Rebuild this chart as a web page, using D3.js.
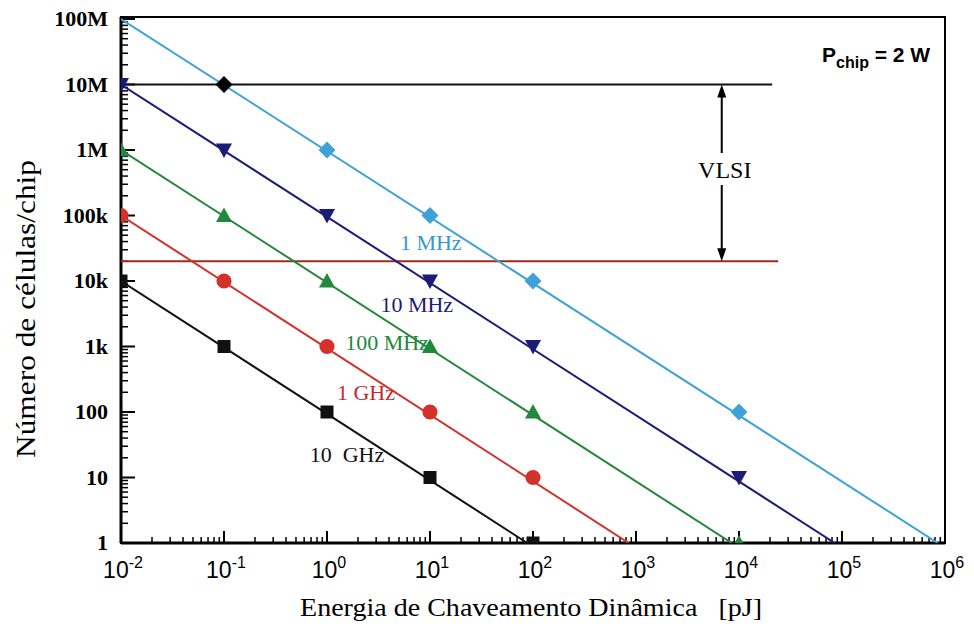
<!DOCTYPE html>
<html>
<head>
<meta charset="utf-8">
<script src="https://cdn.jsdelivr.net/npm/d3@7"></script>
<style>
  body { margin: 0; background: #fff; }
  text { font-family: "Liberation Serif", "DejaVu Serif", serif; }
</style>
</head>
<body>
<svg width="974" height="631"></svg>
<script>
// ---- data ----
var xTickValues = [1e-2, 1e-1, 1e0, 1e1, 1e2, 1e3, 1e4, 1e5, 1e6];
var xTickExp = ["-2", "-1", "0", "1", "2", "3", "4", "5", "6"];
var yTickValues = [1, 10, 100, 1e3, 1e4, 1e5, 1e6, 1e7, 1e8];
var yTickLabels = ["1", "10", "100", "1k", "10k", "100k", "1M", "10M", "100M"];

var seriesNames = ["1 MHz", "10 MHz", "100 MHz", "1 GHz", "10  GHz"];
var seriesColors = ["#3ea2d8", "#1b1b78", "#22883c", "#d3312a", "#111111"];
var labelColors = ["#3598cf", "#1b1b78", "#22883c", "#c8282e", "#111111"];
var seriesShapes = ["diamond", "triangleDown", "triangle", "circle", "square"];

// line start / end (energy pJ, cells)
var lineStartE = [0.01, 0.01, 0.01, 0.01, 0.01];
var lineStartN = [1e8, 1e7, 1e6, 1e5, 1e4];
var lineEndE = [8.5e5, 8.5e4, 8.5e3, 850, 88];
var lineEndN = [1, 1, 1, 1, 1];

// markers
var markE = [
  [1, 10, 100, 1e4],
  [0.01, 0.1, 1, 10, 100, 1e4],
  [0.01, 0.1, 1, 10, 100, 1e4],
  [0.01, 0.1, 1, 10, 100],
  [0.01, 0.1, 1, 10, 100]
];
var markN = [
  [1e6, 1e5, 1e4, 100],
  [1e7, 1e6, 1e5, 1e4, 1e3, 10],
  [1e6, 1e5, 1e4, 1e3, 100, 1],
  [1e5, 1e4, 1e3, 100, 10],
  [1e4, 1e3, 100, 10, 1]
];

// label positions (energy, cells) at text start / baseline
var labelE = [5.1, 3.3, 1.5, 1.25, 0.68];
var labelN = [3e4, 3.4e3, 890, 150, 17];

// VLSI band
var vlsiTop = 1e7, vlsiBottom = 2e4;
var vlsiTopEnd = 2.1e4, vlsiBottomEnd = 2.4e4;
var vlsiArrowE = 6.8e3;
var cornerE = 0.1, cornerN = 1e7;

// ---- layout ----
var svg = d3.select('svg');
var padding = {l: 121, r: 29, t: 19, b: 88};
var width = 974 - padding.l - padding.r;
var height = 631 - padding.t - padding.b;

var xScale = d3.scaleLog().domain([1e-2, 1e6]).range([0, width]);
var yScale = d3.scaleLog().domain([1, 1e8]).range([height, 0]);

var chart = svg.append('g')
  .attr('transform', 'translate(' + padding.l + ',' + padding.t + ')');

svg.append('defs').append('clipPath').attr('id', 'plotClip')
  .append('rect').attr('x', 0).attr('y', -2).attr('width', width).attr('height', height + 2);

// minor ticks
var minorX = [], minorY = [];
xTickValues.slice(0, -1).forEach(function(v) {
  for (var k = 2; k < 10; k++) minorX.push(v * k);
});
yTickValues.slice(0, -1).forEach(function(v) {
  for (var k = 2; k < 10; k++) minorY.push(v * k);
});

chart.selectAll('.minorx').data(minorX).join('line')
  .attr('x1', d => xScale(d)).attr('x2', d => xScale(d))
  .attr('y1', height).attr('y2', height - 6)
  .attr('stroke', '#000').attr('stroke-width', 1.5);
chart.selectAll('.majorx').data(xTickValues).join('line')
  .attr('x1', d => xScale(d)).attr('x2', d => xScale(d))
  .attr('y1', height).attr('y2', height - 12)
  .attr('stroke', '#000').attr('stroke-width', 2);
chart.selectAll('.minory').data(minorY).join('line')
  .attr('y1', d => yScale(d)).attr('y2', d => yScale(d))
  .attr('x1', 0).attr('x2', 7)
  .attr('stroke', '#000').attr('stroke-width', 1.5);
chart.selectAll('.majory').data(yTickValues).join('line')
  .attr('y1', d => yScale(d)).attr('y2', d => yScale(d))
  .attr('x1', 0).attr('x2', 14)
  .attr('stroke', '#000').attr('stroke-width', 2);

// frame
chart.append('rect')
  .attr('x', 0).attr('y', -2).attr('width', width).attr('height', height + 2)
  .attr('fill', 'none').attr('stroke', '#000').attr('stroke-width', 2);
chart.append('line').attr('x1', 0).attr('x2', 0).attr('y1', -2).attr('y2', height)
  .attr('stroke', '#000').attr('stroke-width', 3);
chart.append('line').attr('x1', 0).attr('x2', width).attr('y1', height).attr('y2', height)
  .attr('stroke', '#000').attr('stroke-width', 3);

// tick labels
chart.selectAll('.ylab').data(yTickValues).join('text')
  .attr('x', -13).attr('y', d => yScale(d) + 7)
  .attr('text-anchor', 'end')
  .style('font-size', '22px').style('font-weight', 'bold')
  .text((d, i) => yTickLabels[i]);

var xl = chart.selectAll('.xlab').data(xTickValues).join('text')
  .attr('x', d => xScale(d) + 2).attr('y', height + 35)
  .attr('text-anchor', 'middle')
  .style('font-family', '"Liberation Sans", Arial, sans-serif')
  .style('font-size', '23px');
xl.append('tspan').text('10');
xl.append('tspan').attr('dy', -10).style('font-size', '16px').text((d, i) => xTickExp[i]);

// axis titles
svg.append('text')
  .attr('x', 300).attr('y', 616)
  .style('font-size', '26px')
  .attr('xml:space', 'preserve')
  .attr('textLength', 462).attr('lengthAdjust', 'spacingAndGlyphs')
  .text('Energia de Chaveamento Dinâmica   [pJ]');
svg.append('text')
  .attr('transform', 'translate(35,458) rotate(-90)')
  .style('font-size', '27px')
  .attr('textLength', 298).attr('lengthAdjust', 'spacingAndGlyphs')
  .text('Número de células/chip');

// VLSI horizontal lines
chart.append('line')
  .attr('x1', 0).attr('x2', xScale(vlsiTopEnd))
  .attr('y1', yScale(vlsiTop)).attr('y2', yScale(vlsiTop))
  .attr('stroke', '#111').attr('stroke-width', 2);
chart.append('line')
  .attr('x1', 0).attr('x2', xScale(vlsiBottomEnd))
  .attr('y1', yScale(vlsiBottom)).attr('y2', yScale(vlsiBottom))
  .attr('stroke', '#9a2d22').attr('stroke-width', 2);

// series lines
var plot = chart.append('g').attr('clip-path', 'url(#plotClip)');
seriesNames.forEach(function(name, i) {
  plot.append('line')
    .attr('x1', xScale(lineStartE[i])).attr('y1', yScale(lineStartN[i]))
    .attr('x2', xScale(lineEndE[i])).attr('y2', yScale(lineEndN[i]))
    .attr('stroke', seriesColors[i]).attr('stroke-width', 2);
});

function shapePath(shape) {
  switch (shape) {
    case 'diamond': return 'M0,-8.5L8.5,0L0,8.5L-8.5,0Z';
    case 'triangleDown': return 'M-8,-6.5L8,-6.5L0,8Z';
    case 'triangle': return 'M-8,6.5L8,6.5L0,-8Z';
    case 'square': return 'M-6.5,-6.5L6.5,-6.5L6.5,6.5L-6.5,6.5Z';
    default: return d3.symbol(d3.symbolCircle, 180)();
  }
}

seriesNames.forEach(function(name, i) {
  plot.selectAll('.m' + i).data(markE[i]).join('path')
    .attr('class', 'm' + i)
    .attr('transform', (d, j) => 'translate(' + xScale(d) + ',' + yScale(markN[i][j]) + ')')
    .attr('d', shapePath(seriesShapes[i]))
    .attr('fill', seriesColors[i]);
});

// black diamond at corner
plot.append('path')
  .attr('transform', 'translate(' + xScale(cornerE) + ',' + yScale(cornerN) + ')')
  .attr('d', shapePath('diamond'))
  .attr('fill', '#000');

// series labels
seriesNames.forEach(function(name, i) {
  chart.append('text')
    .attr('x', xScale(labelE[i])).attr('y', yScale(labelN[i]))
    .attr('fill', labelColors[i])
    .style('font-size', '22px')
    .attr('xml:space', 'preserve')
    .text(name);
});

// VLSI arrow
var ax = xScale(vlsiArrowE);
var yTop = yScale(vlsiTop), yBot = yScale(vlsiBottom);
chart.append('line').attr('x1', ax).attr('x2', ax).attr('y1', yTop + 4).attr('y2', 134)
  .attr('stroke', '#000').attr('stroke-width', 2);
chart.append('line').attr('x1', ax).attr('x2', ax).attr('y1', 166).attr('y2', yBot - 4)
  .attr('stroke', '#000').attr('stroke-width', 2);
chart.append('path').attr('d', 'M' + ax + ',' + yTop + 'l-4.5,13l9,0Z').attr('fill', '#000');
chart.append('path').attr('d', 'M' + ax + ',' + yBot + 'l-4.5,-13l9,0Z').attr('fill', '#000');
chart.append('text')
  .attr('x', ax + 3).attr('y', 159)
  .attr('text-anchor', 'middle')
  .style('font-size', '24px')
  .text('VLSI');

// P chip annotation
var pt = svg.append('text')
  .attr('x', 822).attr('y', 62)
  .style('font-family', '"Liberation Sans", Arial, sans-serif')
  .style('font-weight', 'bold')
  .style('font-size', '21px');
pt.append('tspan').text('P');
pt.append('tspan').attr('dy', 6).style('font-size', '16px').text('chip');
pt.append('tspan').attr('dy', -6).text(' = 2 W');
</script>
</body>
</html>
